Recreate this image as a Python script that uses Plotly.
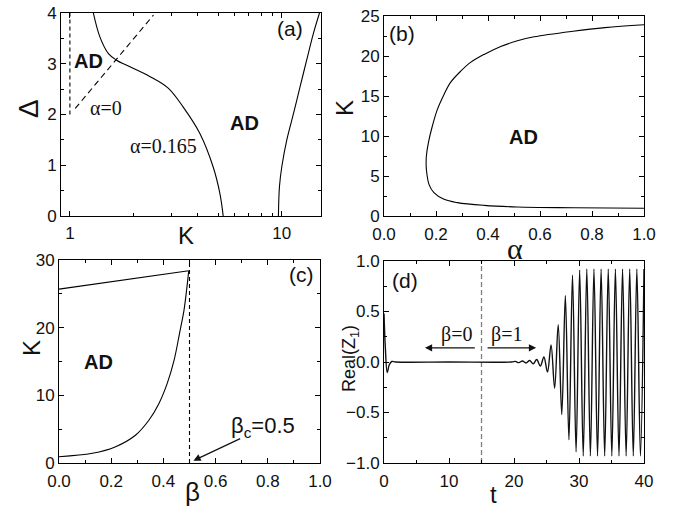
import plotly.graph_objects as go
import math

# ---------------- data ----------------
# (a) Delta vs K (log K)
K_a165 = [1.29, 1.385, 1.52, 1.66, 1.92, 2.38, 2.91, 3.42, 4.10, 4.74, 5.10, 5.29]
D_a165 = [4.0, 3.53, 3.2, 3.07, 2.94, 2.75, 2.52, 2.15, 1.63, 0.97, 0.45, 0.0]
K_aright = [9.64, 9.75, 10.0, 10.56, 11.36, 12.2, 13.1, 14.1, 15.06]
D_aright = [0.0, 0.58, 0.97, 1.5, 2.02, 2.55, 3.07, 3.6, 4.0]
K_a0_vert = [1.0, 1.0]
D_a0_vert = [2.0, 4.0]
K_a0_diag = [1.06, 2.48]
D_a0_diag = [2.12, 3.96]

# (b) K vs alpha
alpha_b = [1.0, 0.85, 0.727, 0.577, 0.513, 0.449, 0.385, 0.333, 0.295, 0.256, 0.231, 0.205,
           0.186, 0.171, 0.163, 0.162, 0.163, 0.173, 0.192, 0.231, 0.282, 0.385, 0.513,
           0.727, 1.0]
K_b = [23.9, 23.55, 23.1, 22.4, 21.9, 21.2, 20.2, 19.2, 18.1, 16.7, 15.2, 13.3,
       11.25, 9.2, 7.5, 6.6, 5.83, 3.96, 2.92, 2.08, 1.67, 1.33, 1.125,
       1.03, 0.96]

# (c) K vs beta
beta_up = [0.0, 0.497]
K_up = [25.7, 28.4]
beta_low = [0.0, 0.128, 0.217, 0.294, 0.345, 0.383, 0.415, 0.441, 0.462, 0.479, 0.489, 0.497]
K_low = [0.93, 1.43, 2.41, 4.14, 6.35, 8.8, 11.8, 15.2, 19.2, 22.6, 25.6, 28.4]
beta_c = [0.5, 0.5]
K_c = [0.0, 30.0]

# (d) Real(Z1) vs t
t_d = [0.0, 0.2, 0.5, 0.8, 1.2, 1.8, 10.0, 19.6, 20.2, 20.75, 21.3, 21.85, 22.4, 22.95,
       23.5, 24.05, 24.6, 25.15, 25.7, 26.25, 26.8, 27.35, 27.9, 28.45, 29.0, 29.55,
       30.1, 30.65, 31.2, 31.75, 32.3, 32.85, 33.4, 33.95, 34.5, 35.05, 35.6, 36.15,
       36.7, 37.25, 37.8, 38.35, 38.9, 39.45, 40.0]
z_d = [0.48, 0.15, -0.105, -0.03, 0.005, 0.0, 0.0, 0.0, 0.006, -0.006, 0.01, -0.01, 0.015, -0.018,
       0.025, -0.04, 0.05, -0.10, 0.17, -0.26, 0.37, -0.52, 0.66, -0.77, 0.86, -0.89,
       0.91, -0.93, 0.92, -0.93, 0.92, -0.93, 0.92, -0.93, 0.92, -0.93, 0.92, -0.93,
       0.92, -0.93, 0.92, -0.93, 0.92, -0.93, 0.92]
t_split = [15.0, 15.0]
z_split = [-1.0, 1.0]

# ---------------- figure ----------------
fig = go.Figure()
black = "black"
lw = 1.1

fig.add_trace(go.Scatter(x=K_a165, y=D_a165, mode="lines", line=dict(color=black, width=lw, shape="spline"), xaxis="x", yaxis="y"))
fig.add_trace(go.Scatter(x=K_aright, y=D_aright, mode="lines", line=dict(color=black, width=lw, shape="spline"), xaxis="x", yaxis="y"))
fig.add_trace(go.Scatter(x=K_a0_vert, y=D_a0_vert, mode="lines", line=dict(color=black, width=lw, dash="4px,3px"), xaxis="x", yaxis="y"))
fig.add_trace(go.Scatter(x=K_a0_diag, y=D_a0_diag, mode="lines", line=dict(color=black, width=lw, dash="6px,4px"), xaxis="x", yaxis="y"))

fig.add_trace(go.Scatter(x=alpha_b, y=K_b, mode="lines", line=dict(color=black, width=lw, shape="spline"), xaxis="x2", yaxis="y2"))

fig.add_trace(go.Scatter(x=beta_up, y=K_up, mode="lines", line=dict(color=black, width=lw), xaxis="x3", yaxis="y3"))
fig.add_trace(go.Scatter(x=beta_low, y=K_low, mode="lines", line=dict(color=black, width=lw, shape="spline"), xaxis="x3", yaxis="y3"))
fig.add_trace(go.Scatter(x=beta_c, y=K_c, mode="lines", line=dict(color=black, width=lw, dash="4px,3px"), xaxis="x3", yaxis="y3"))

fig.add_trace(go.Scatter(x=t_split, y=z_split, mode="lines", line=dict(color="#808080", width=1.3, dash="5px,3px"), xaxis="x4", yaxis="y4"))
fig.add_trace(go.Scatter(x=t_d, y=z_d, mode="lines", line=dict(color="#111111", width=1.4, shape="spline", smoothing=1.0), xaxis="x4", yaxis="y4"))

W, H = 678, 509
def dx(a, b):
    return [a / W, b / W]
def dy(top, bot):
    return [1 - bot / H, 1 - top / H]

tickfont = dict(family="Liberation Sans, Arial, sans-serif", size=17, color="#111")

def ax(**kw):
    base = dict(showline=True, linecolor=black, linewidth=1, mirror="ticks",
                ticks="inside", ticklen=5, tickcolor=black, tickwidth=1,
                showgrid=False, zeroline=False, tickfont=tickfont, fixedrange=True,
                automargin=False)
    base.update(kw)
    return base

minor = lambda **k: dict(ticks="inside", ticklen=3, tickcolor=black, **k)

fig.update_layout(
    width=W, height=H, margin=dict(l=0, r=0, t=0, b=0),
    paper_bgcolor="white", plot_bgcolor="white", showlegend=False,
    xaxis=ax(domain=dx(61, 321), anchor="y", type="log", range=[-0.042, 1.185],
             tickvals=[1, 10], ticktext=["1", "10"], ticklabelstandoff=2,
             minor=minor(tickvals=[2, 3, 4, 5, 6, 7, 8, 9])),
    yaxis=ax(domain=dy(13, 216), anchor="x", range=[0, 4], dtick=1,
             minor=minor(dtick=0.5)),
    xaxis2=ax(domain=dx(384, 644), anchor="y2", range=[0, 1], dtick=0.2, tickformat=".1f",
              ticklabelstandoff=3, minor=minor(dtick=0.1)),
    yaxis2=ax(domain=dy(16, 216), anchor="x2", range=[0, 25], dtick=5,
              minor=minor(dtick=2.5)),
    xaxis3=ax(domain=dx(59, 320), anchor="y3", range=[0, 1], dtick=0.2, tickformat=".1f",
              ticklabelstandoff=3, minor=minor(dtick=0.1)),
    yaxis3=ax(domain=dy(260, 463), anchor="x3", range=[0, 30], dtick=10,
              minor=minor(dtick=5)),
    xaxis4=ax(domain=dx(384, 644), anchor="y4", range=[0, 40], dtick=10,
              ticklabelstandoff=3, minor=minor(dtick=5)),
    yaxis4=ax(domain=dy(261, 463), anchor="x4", range=[-1, 1], dtick=0.5, tickformat=".1f",
              minor=minor(dtick=0.25)),
)

sans = "Liberation Sans, Arial, sans-serif"
serif = "Liberation Serif, Times New Roman, serif"
anns = []
def txt(x, y, s, xref, yref, size=17, family=sans, bold=False, angle=0, color="#111"):
    if bold:
        s = "<b>" + s + "</b>"
    anns.append(dict(x=x, y=y, xref=xref, yref=yref, text=s, showarrow=False,
                     font=dict(family=family, size=size, color=color), textangle=angle,
                     xanchor="center", yanchor="middle"))

# panel (a) labels (log axis -> log10 positions)
txt(math.log10(10.94), 3.70, "(a)", "x", "y", size=21)
txt(math.log10(1.23), 3.05, "AD", "x", "y", size=20, bold=True)
txt(math.log10(1.48), 2.12, "α=0", "x", "y", size=20, family=serif)
txt(math.log10(2.78), 1.37, "α=0.165", "x", "y", size=20, family=serif)
txt(math.log10(6.64), 1.83, "AD", "x", "y", size=20, bold=True)
# panel (b)
txt(0.068, 22.8, "(b)", "x2", "y2", size=21)
txt(0.536, 9.9, "AD", "x2", "y2", size=20, bold=True)
# panel (c)
txt(0.93, 27.8, "(c)", "x3", "y3", size=21)
txt(0.151, 15.0, "AD", "x3", "y3", size=20, bold=True)
txt(0.78, 5.3, "β<sub>c</sub>=0.5", "x3", "y3", size=22)
# panel (d)
txt(3.2, 0.81, "(d)", "x4", "y4", size=21)
txt(11.1, 0.27, "β=0", "x4", "y4", size=20, family=serif)
txt(18.8, 0.27, "β=1", "x4", "y4", size=20, family=serif)

# axis titles (paper coords)
def ptxt(px, py, s, size=24, angle=0, family=sans):
    anns.append(dict(x=px / W, y=1 - py / H, xref="paper", yref="paper", text=s, showarrow=False,
                     font=dict(family=family, size=size, color="#111"), textangle=angle,
                     xanchor="center", yanchor="middle"))

ptxt(28, 109, "Δ", size=28, angle=-90)
ptxt(186, 235, "K", size=24)
ptxt(345, 108, "K", size=24, angle=-90)
ptxt(515, 248, "α", size=30, family=serif)
ptxt(31, 348, "K", size=24, angle=-90)
ptxt(192, 492, "β", size=26)
ptxt(350, 358, "Real(Z<sub>1</sub>)", size=18, angle=-90)
ptxt(494, 494, "t", size=24)

# arrows
def arrow(x, y, axx, ayy, xr, yr):
    anns.append(dict(x=x, y=y, ax=axx, ay=ayy, xref=xr, yref=yr, axref=xr, ayref=yr,
                     text="", showarrow=True, arrowhead=2, arrowsize=1.2, arrowwidth=1.2,
                     arrowcolor="#111"))

arrow(0.515, 0.35, 0.70, 3.7, "x3", "y3")
arrow(6.3, 0.14, 14.2, 0.14, "x4", "y4")
arrow(23.4, 0.14, 15.7, 0.14, "x4", "y4")

fig.update_layout(annotations=anns)
fig.write_html("out.html", config={"displayModeBar": False},
               post_script="document.body.style.margin='0';document.body.style.padding='0';document.body.style.overflow='hidden';")
